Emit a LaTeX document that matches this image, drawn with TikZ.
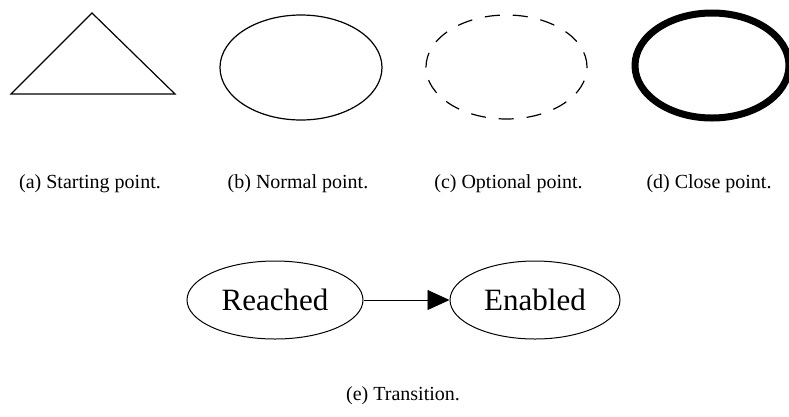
\documentclass[tikz,border=0pt]{standalone}
\usepackage{fontspec}
\setmainfont{Liberation Serif}
\usetikzlibrary{shapes.geometric,arrows.meta}
\begin{document}
\begin{tikzpicture}[x=1pt,y=-1pt,
  caption/.style={anchor=base,font=\fontsize{20}{24}\selectfont,inner sep=0},
  pointshape/.style={draw,ellipse,inner sep=0,minimum width=162pt,minimum height=105pt,line width=1.2pt},
  statenode/.style={draw,ellipse,inner sep=0,minimum width=176pt,minimum height=78pt,line width=1pt,font=\fontsize{31}{36}\selectfont},
  trans/.style={line width=0.9pt,-{Triangle[length=22pt,width=20pt]}}]
\useasboundingbox (0,0) rectangle (789,416);
\clip (0,0) rectangle (789,416);
% (a) starting point
\coordinate (ta) at (92,13);
\coordinate (tb) at (11,94);
\coordinate (tc) at (175,94);
\draw[line width=1.2pt,line join=miter] (ta) -- (tb) -- (tc) -- cycle;
% (b) normal point
\node[pointshape] (normal) at (301,67.5) {};
% (c) optional point
\node[pointshape,dash pattern=on 15pt off 13pt,minimum width=161pt,minimum height=104pt] (optional) at (506.5,67) {};
% (d) close point
\node[pointshape,line width=7pt,minimum width=154pt,minimum height=105pt] (close) at (712,65.5) {};
% captions
\node[caption] (capa) at (90,188) {(a) Starting point.};
\node[caption] (capb) at (298,188) {(b) Normal point.};
\node[caption] (capc) at (508.5,188) {(c) Optional point.};
\node[caption] (capd) at (709,188) {(d) Close point.};
% (e) transition
\node[statenode] (reached) at (275,300) {Reached};
\node[statenode,minimum width=170pt] (enabled) at (535,300) {Enabled};
\draw[trans] (reached) -- (enabled);
\node[caption] (cape) at (403,400) {(e) Transition.};
\end{tikzpicture}
\end{document}
